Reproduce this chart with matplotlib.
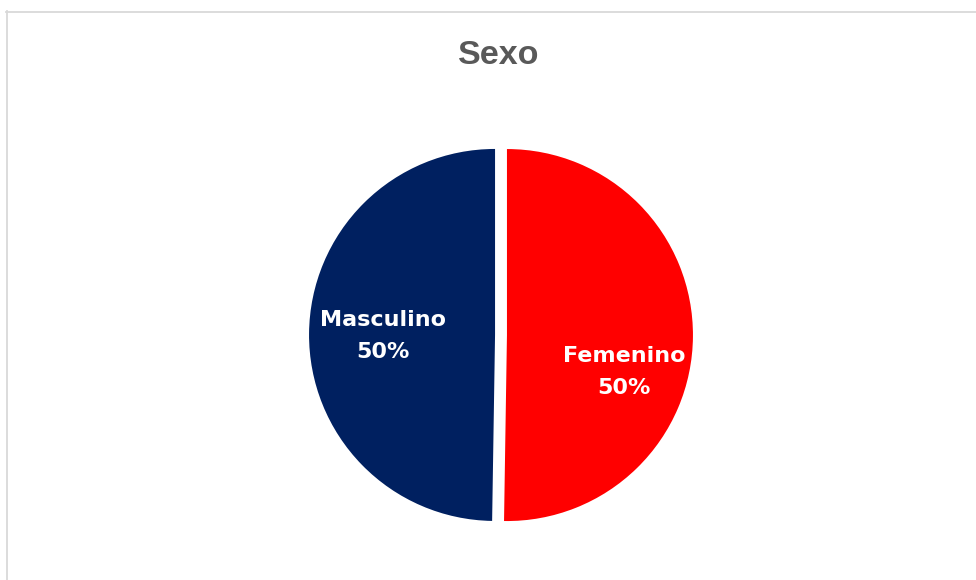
import matplotlib
matplotlib.use("Agg")
import matplotlib.pyplot as plt
from matplotlib.lines import Line2D

categories = ["Femenino", "Masculino"]
values = [50.25, 49.75]
pct_labels = ["50%", "50%"]
colors = ["#FF0000", "#002060"]

W, H = 976, 580
fig = plt.figure(figsize=(W / 100, H / 100), dpi=100)
fig.patch.set_facecolor("white")

# chart border (left and top visible)
border = "#D9D9D9"
fig.add_artist(Line2D([6.5 / W, 6.5 / W], [0, 1 - 11 / H], transform=fig.transFigure, color=border, lw=1.3))
fig.add_artist(Line2D([6 / W, 1], [1 - 11.5 / H, 1 - 11.5 / H], transform=fig.transFigure, color=border, lw=1.3))

cx, cy, R = 501, 335, 186
half = 200
ax = fig.add_axes([(cx - half) / W, (H - cy - half) / H, 2 * half / W, 2 * half / H])
lim = half / R
ax.axis("off")

wedges, _ = ax.pie(values, colors=colors, startangle=90, counterclock=False,
                   explode=[0.032, 0.032], radius=1.0, wedgeprops=dict(linewidth=0))
ax.set_xlim(-lim, lim)
ax.set_ylim(-lim, lim)

label_pos = {"Femenino": (0.662, -0.2), "Masculino": (-0.634, -0.005)}
for cat, pct in zip(categories, pct_labels):
    x, y = label_pos[cat]
    ax.text(x, y, f"{cat}\n{pct}", ha="center", va="center", color="white",
            fontsize=16, fontweight="bold", family="DejaVu Sans", linespacing=1.77)

fig.text(499 / W, 1 - 55 / H, "Sexo", ha="center", va="center", fontsize=24.5,
         fontweight="bold", color="#595959", family="Liberation Sans")

fig.savefig("out.png", dpi=100)
